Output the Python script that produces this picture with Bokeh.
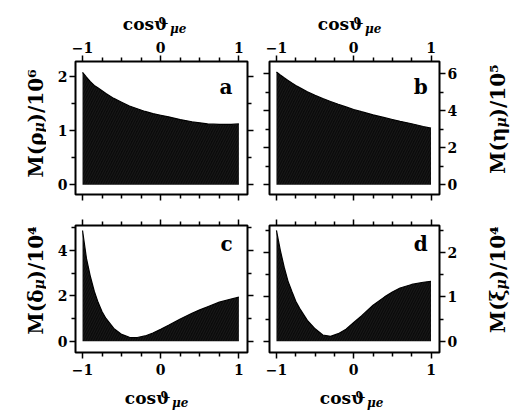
import math
from bokeh.plotting import figure
from bokeh.models import LinearAxis, FixedTicker, Range1d, Label, CustomLabelingPolicy
from bokeh.core.properties import value
from bokeh.layouts import column, row
from bokeh.embed import file_html
from bokeh.resources import INLINE

# ---- data ----
cos_theta = [-1, -0.95, -0.9, -0.85, -0.8, -0.75, -0.7, -0.6, -0.5, -0.4, -0.3,
             -0.2, -0.1, 0, 0.1, 0.25, 0.4, 0.5, 0.6, 0.75, 0.9, 1]
m_rho = [2.07, 1.98, 1.90, 1.83, 1.78, 1.73, 1.68, 1.59, 1.52, 1.45, 1.40,
         1.35, 1.31, 1.28, 1.25, 1.20, 1.16, 1.14, 1.12, 1.11, 1.11, 1.12]      # x 10^6
m_eta = [6.09, 5.93, 5.78, 5.64, 5.50, 5.37, 5.25, 5.03, 4.83, 4.66, 4.50,
         4.35, 4.21, 4.07, 3.95, 3.78, 3.63, 3.53, 3.43, 3.30, 3.15, 3.06]      # x 10^5
m_delta = [4.88, 3.65, 2.85, 2.20, 1.70, 1.30, 1.00, 0.56, 0.30, 0.17, 0.16,
           0.23, 0.36, 0.52, 0.70, 0.98, 1.23, 1.38, 1.52, 1.72, 1.86, 1.94]    # x 10^4
m_xi = [2.50, 2.05, 1.67, 1.35, 1.12, 0.90, 0.74, 0.47, 0.28, 0.14, 0.11,
        0.17, 0.27, 0.42, 0.57, 0.81, 1.00, 1.11, 1.20, 1.28, 1.33, 1.35]       # x 10^4

x_major = [-1, 0, 1]
x_minor = [-0.75, -0.5, -0.25, 0.25, 0.5, 0.75]
ticks_a = ([0, 1, 2], [0.5, 1.5])
ticks_b = ([0, 2, 4, 6], [1, 3, 5])
ticks_c = ([0, 2, 4], [1, 3, 5])
ticks_d = ([0, 1, 2], [0.5, 1.5, 2.5])

x_title = ("cosϑ", "μe")
ylab_a = ("M(ρ", "μ", ")/10⁶")
ylab_b = ("M(η", "μ", ")/10⁵")
ylab_c = ("M(δ", "μ", ")/10⁴")
ylab_d = ("M(ξ", "μ", ")/10⁴")
letters = ("a", "b", "c", "d")

FONT = "DejaVu Serif"
PAGE_W, PAGE_H = 511, 414


def style_axis(ax, labeled, standoff):
    ax.axis_line_color = None
    ax.major_tick_out = 6
    ax.major_tick_in = 0
    ax.minor_tick_out = 4
    ax.minor_tick_in = 0
    ax.major_tick_line_width = 1.5
    ax.minor_tick_line_width = 1.5
    ax.major_tick_line_color = "black"
    ax.minor_tick_line_color = "black"
    if labeled:
        ax.major_label_text_font = FONT
        ax.major_label_text_font_style = "bold"
        ax.major_label_text_font_size = "14px"
        ax.major_label_text_color = "black"
        ax.major_label_standoff = standoff
    else:
        ax.major_label_policy = CustomLabelingPolicy(code="return new Set()")
        ax.major_label_text_font_size = "1px"
        ax.major_label_standoff = 0


def make_panel(ys, yrange, yticks, W, H, bl, br, bt, bb,
               label_x, label_y, letter, letter_pos):
    xr = (-1.09, 1.11)
    p = figure(width=W, height=H, x_range=Range1d(*xr), y_range=Range1d(*yrange),
               x_axis_location=None, y_axis_location=None, title=None,
               toolbar_location=None, output_backend="svg",
               min_border_left=bl, min_border_right=br,
               min_border_top=bt, min_border_bottom=bb)
    p.grid.visible = False
    p.outline_line_color = "black"
    p.outline_line_width = 2
    p.background_fill_color = "white"
    p.border_fill_color = "white"

    xt = FixedTicker(ticks=x_major, minor_ticks=x_minor)
    yt = FixedTicker(ticks=yticks[0], minor_ticks=yticks[1])
    for side in ("above", "below"):
        ax = LinearAxis(ticker=xt)
        style_axis(ax, side == label_x, 3 if side == "above" else 5)
        p.add_layout(ax, side)
    for side in ("left", "right"):
        ax = LinearAxis(ticker=yt)
        style_axis(ax, side == label_y, 2)
        p.add_layout(ax, side)

    p.varea(x=cos_theta, y1=0, y2=ys, fill_color="#0b0b0b",
            hatch_pattern="/", hatch_color="white", hatch_alpha=0.10,
            hatch_scale=5, hatch_weight=0.6)
    p.line(x=cos_theta, y=ys, line_color="black", line_width=1.2)

    fw = W - bl - br
    fh = H - bt - bb
    lx = xr[0] + (letter_pos[0] - bl) / fw * (xr[1] - xr[0])
    ly = yrange[1] - (letter_pos[1] - bt) / fh * (yrange[1] - yrange[0])
    p.add_layout(Label(x=lx, y=ly, text=letter, text_font=FONT, text_font_style="bold",
                       text_font_size="20px", text_align="left",
                       text_baseline="alphabetic", text_color="black"))
    return p


def strip(x0, x1, y0, y1):
    """A blank drawing area covering page pixels x0..x1, y0..y1 (y downwards)."""
    s = figure(width=x1 - x0, height=y1 - y0,
               x_range=Range1d(x0, x1), y_range=Range1d(PAGE_H - y1, PAGE_H - y0),
               x_axis_location=None, y_axis_location=None, title=None,
               toolbar_location=None, output_backend="svg",
               min_border_left=0, min_border_right=0, min_border_top=0, min_border_bottom=0)
    s.grid.visible = False
    s.outline_line_color = None
    s.background_fill_color = "white"
    s.border_fill_color = "white"
    return s


def put(s, x, y, text, size, style, align, angle=0.0):
    s.text(x=[x], y=[PAGE_H - y], text=[text], angle=angle, text_font=value(FONT),
           text_font_style=style, text_font_size=size, text_align=align,
           text_baseline="alphabetic", text_color="black")


def x_title_at(s, x, y):
    put(s, x, y, x_title[0], "17px", "bold", "right")
    put(s, x + 1.5, y + 5, x_title[1], "12px", "bold italic", "left")


def y_label_at(s, x, y, parts):
    put(s, x, y, parts[0], "20px", "bold", "right", math.pi / 2)
    put(s, x + 3, y, parts[1], "14px", "bold italic", "left", math.pi / 2)
    put(s, x, y - 10, parts[2], "20px", "bold", "left", math.pi / 2)


# page layout: top strip 0..36, panels 36..380, bottom strip 380..414
# left strip 0..46, panels 46..460, right strip 460..511
top = strip(0, 511, 0, 36)
x_title_at(top, 168, 23)
x_title_at(top, 363, 23)

bottom = strip(0, 511, 380, 414)
x_title_at(bottom, 170, 397)
x_title_at(bottom, 365, 397)

left = strip(0, 46, 36, 380)
y_label_at(left, 35, 132, ylab_a)
y_label_at(left, 35, 289, ylab_c)

right = strip(460, 511, 36, 380)
y_label_at(right, 497, 127, ylab_b)
y_label_at(right, 497, 289, ylab_d)

# panel a: page x 46..258, y 36..208 ; frame 75..247 x 61..194
pa = make_panel(m_rho, (-0.18, 2.27), ticks_a, 212, 172, 29, 11, 25, 14,
                "above", "left", letters[0], (173, 50))
# panel b: page x 258..460, y 36..208 ; frame 269..441 x 61..194
pb = make_panel(m_eta, (-0.52, 6.66), ticks_b, 202, 172, 11, 19, 25, 14,
                "above", "right", letters[1], (157, 50))
# panel c: page x 46..258, y 208..380 ; frame 75..247 x 225..352
pc = make_panel(m_delta, (-0.50, 5.10), ticks_c, 212, 172, 29, 11, 17, 28,
                "below", "left", letters[2], (174, 35))
# panel d: page x 258..460, y 208..380 ; frame 269..441 x 225..352
pd = make_panel(m_xi, (-0.255, 2.61), ticks_d, 202, 172, 11, 19, 17, 28,
                "below", "right", letters[3], (157, 35))

grid = column(row(pa, pb), row(pc, pd))
layout = column(top, row(left, grid, right), bottom)
open("out.html", "w").write(file_html(layout, INLINE))
